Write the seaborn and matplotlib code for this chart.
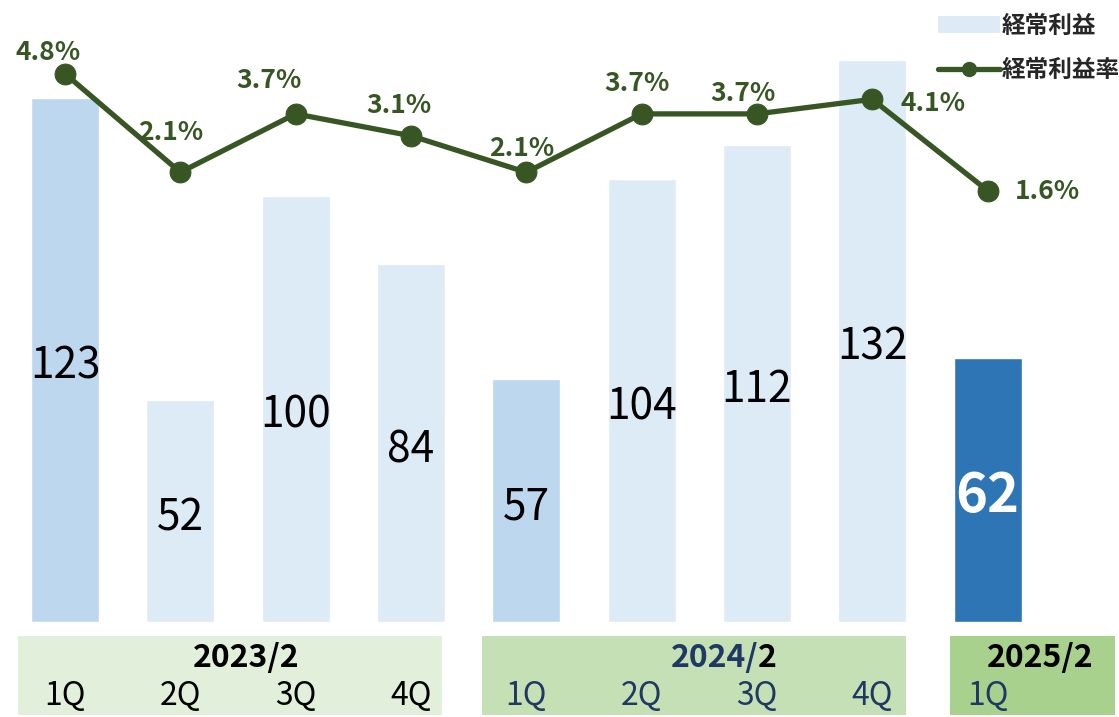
import matplotlib
matplotlib.use("Agg")
import matplotlib.pyplot as plt
import seaborn as sns
import pandas as pd
from matplotlib.patches import Rectangle, Patch
from matplotlib.lines import Line2D

# データ
periods = ["2023/2 1Q", "2023/2 2Q", "2023/2 3Q", "2023/2 4Q",
           "2024/2 1Q", "2024/2 2Q", "2024/2 3Q", "2024/2 4Q", "2025/2 1Q"]
quarters = ["1Q", "2Q", "3Q", "4Q", "1Q", "2Q", "3Q", "4Q", "1Q"]
keijo = [123, 52, 100, 84, 57, 104, 112, 132, 62]
ritsu = [4.8, 2.1, 3.7, 3.1, 2.1, 3.7, 3.7, 4.1, 1.6]
years = ["2023/2", "2024/2", "2025/2"]

bar_colors = ["#BDD7EE", "#DDEBF7", "#DDEBF7", "#DDEBF7",
              "#BDD7EE", "#DDEBF7", "#DDEBF7", "#DDEBF7", "#2E75B6"]
green = "#375623"
navy = "#1F3864"

sns.set_theme(style="white")
plt.rcParams['font.family'] = ['Noto Sans CJK JP', 'DejaVu Sans']

df = pd.DataFrame({"period": periods, "keijo": keijo, "ritsu": ritsu})

fig = plt.figure(figsize=(11.19, 7.17), dpi=100)
ax = fig.add_axes([0, 95 / 717, 1, 622 / 717])

sns.barplot(data=df, x="period", y="keijo", hue="period", palette=bar_colors,
            width=0.59, legend=False, ax=ax, saturation=1)
ax.set_xlim(-0.564, 9.14)
ax.set_ylim(0, 146)
ax.axis("off")

# 棒の数値ラベル
for i, v in enumerate(keijo):
    last = i == len(keijo) - 1
    ax.annotate(str(v), (i, v / 2), xytext=(0, -5), textcoords="offset points",
                ha="center", va="center",
                fontsize=39 if last else 30.5, color="white" if last else "black",
                fontweight="bold" if last else "normal")

# 経常利益率（折れ線）
ax2 = ax.twinx()
sns.lineplot(x=list(range(len(ritsu))), y=ritsu, ax=ax2, color=green,
             linewidth=3.8, marker="o", markersize=15, markeredgecolor=green)
ax2.set_ylim(-10.22, 6.82)
ax2.set_xlim(-0.564, 9.14)
ax2.axis("off")

offsets = [(-12, 15), (-7, 29), (-19, 24), (-9, 22), (-3, 17),
           (-3, 22), (-10, 15), (44, -3), (43, -1)]
for i, (r, off) in enumerate(zip(ritsu, offsets)):
    ax2.annotate(f"{r:.1f}%", (i, r), xytext=off, textcoords="offset points",
                 ha="center", va="center", fontsize=19, fontweight="bold",
                 color=green)

# 凡例
handles = [Patch(facecolor="#DDEBF7", edgecolor="none"),
           Line2D([], [], color=green, linewidth=3.8, marker="o", markersize=10)]
leg = ax2.legend(handles, ["経常利益", "経常利益率"], loc="upper right",
                 bbox_to_anchor=(1.02, 1.012), frameon=False,
                 prop={"weight": "bold", "size": 17}, handlelength=2.6,
                 labelspacing=0.85, handletextpad=0.1)

# 下部の年度・四半期ボックス
axb = fig.add_axes([0, 2 / 717, 1, 79 / 717])
axb.set_xlim(-0.564, 9.14)
axb.set_ylim(0, 1)
axb.axis("off")

boxes = [(-0.408, 3.27, "#E2EFDA"), (3.617, 7.294, "#C5E0B4"),
         (7.676, 9.107, "#A9D18E")]
for x0, x1, c in boxes:
    axb.add_patch(Rectangle((x0, 0), x1 - x0, 1, facecolor=c, edgecolor="none"))

year_x = [1.57, 5.56, 8.46]
axb.text(year_x[0], 0.72, years[0], ha="center", va="center",
         fontsize=23, fontweight="bold", color="black")
t2 = axb.text(year_x[1] + 0.07, 0.72, years[1][:-1], ha="center", va="center",
              fontsize=23, fontweight="bold", color=navy)
axb.annotate(years[1][-1], xy=(1, 0.5), xycoords=t2, ha="left", va="center",
             fontsize=23, fontweight="bold", color="black")
axb.text(year_x[2], 0.72, years[2], ha="center", va="center",
         fontsize=23, fontweight="bold", color="black")

for i, q in enumerate(quarters):
    axb.text(i, 0.24, q, ha="center", va="center", fontsize=23,
             color="black" if i < 4 else navy)

fig.savefig("out.png", dpi=100)
